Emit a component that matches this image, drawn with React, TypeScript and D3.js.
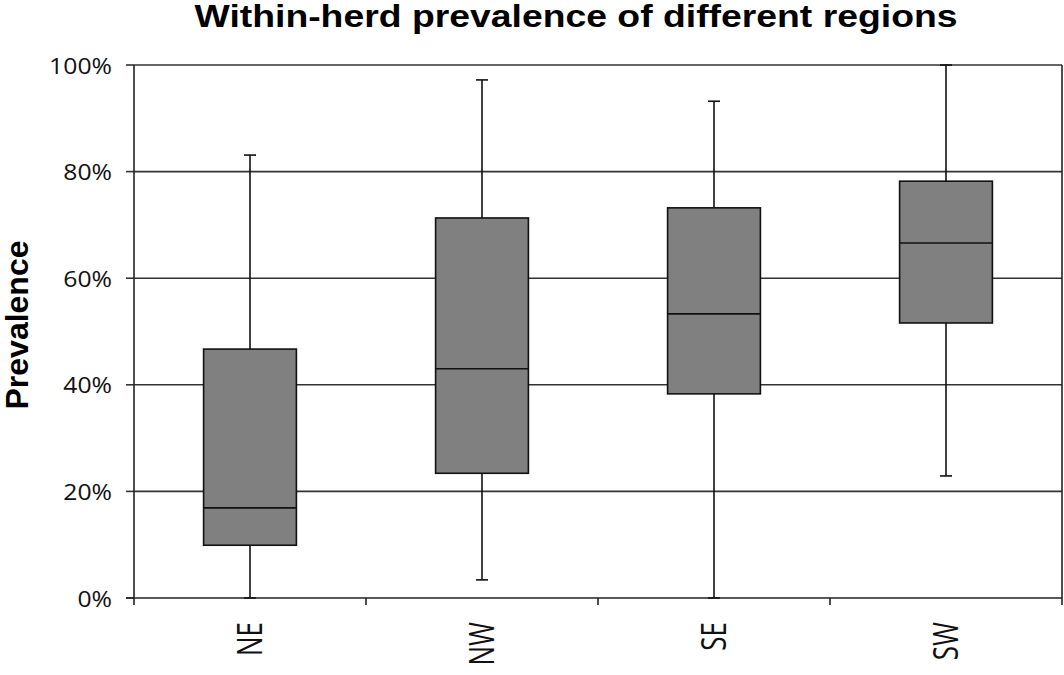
import React from "react";
import * as d3 from "d3";

const categories = ["NE", "NW", "SE", "SW"];
const mins = [0.0, 0.034, 0.0, 0.229];
const q1s = [0.099, 0.234, 0.383, 0.516];
const medians = [0.169, 0.43, 0.533, 0.666];
const q3s = [0.467, 0.713, 0.732, 0.782];
const maxs = [0.831, 0.972, 0.932, 1.0];
const yTicks = [0, 0.2, 0.4, 0.6, 0.8, 1.0];

export default function App() {
  const W = 1064, H = 675;
  const left = 134, right = 1062, top = 65, bottom = 598;
  const x = d3.scaleBand().domain(categories).range([left, right]).paddingInner(0).paddingOuter(0);
  const y = d3.scaleLinear().domain([0, 1]).range([bottom, top]);
  const bw = x.bandwidth() * 0.4;
  const cap = 12;
  return (
    <svg width={W} height={H} style={{ position: "absolute", left: 0, top: 0, background: "#fff" }}>
      <text x={576} y={27} textAnchor="middle" textLength={763} lengthAdjust="spacingAndGlyphs" fontFamily="Liberation Sans, Arial, sans-serif" fontWeight="bold" fontSize={31}>Within-herd prevalence of different regions</text>
      {yTicks.map((t) => (
        <g key={t}>
          {t > 0 && <line x1={left} x2={right} y1={y(t)} y2={y(t)} stroke="#333" strokeWidth={1.6} />}
          <line x1={left - 8} x2={left} y1={y(t)} y2={y(t)} stroke="#333" strokeWidth={1.6} />
          <text transform={`translate(112,${y(t) + 8.5}) scale(1.1,1)`} textAnchor="end" fontFamily="Open Sans, sans-serif" fontSize={22.5} fill="#111">{d3.format(".0%")(t)}</text>
        </g>
      ))}
      <line x1={left} x2={left} y1={top} y2={bottom} stroke="#222" strokeWidth={1.6} />
      <line x1={right} x2={right} y1={top} y2={bottom} stroke="#222" strokeWidth={1.6} />
      <line x1={left - 8} x2={right} y1={bottom} y2={bottom} stroke="#222" strokeWidth={1.6} />
      {categories.map((c, i) => (
        <line key={"t" + i} x1={x(c)!} x2={x(c)!} y1={bottom} y2={bottom + 7} stroke="#222" strokeWidth={1.6} />
      ))}
      <line x1={right} x2={right} y1={bottom} y2={bottom + 7} stroke="#222" strokeWidth={1.6} />
      {categories.map((c, i) => {
        const cx = x(c)! + x.bandwidth() / 2;
        return (
          <g key={c}>
            <line x1={cx} x2={cx} y1={y(maxs[i])} y2={y(q3s[i])} stroke="#111" strokeWidth={1.6} />
            <line x1={cx} x2={cx} y1={y(q1s[i])} y2={y(mins[i])} stroke="#111" strokeWidth={1.6} />
            <line x1={cx - cap / 2} x2={cx + cap / 2} y1={y(maxs[i])} y2={y(maxs[i])} stroke="#111" strokeWidth={1.6} />
            <line x1={cx - cap / 2} x2={cx + cap / 2} y1={y(mins[i])} y2={y(mins[i])} stroke="#111" strokeWidth={1.6} />
            <rect x={cx - bw / 2} y={y(q3s[i])} width={bw} height={y(q1s[i]) - y(q3s[i])} fill="#808080" stroke="#111" strokeWidth={1.6} />
            <line x1={cx - bw / 2} x2={cx + bw / 2} y1={y(medians[i])} y2={y(medians[i])} stroke="#111" strokeWidth={1.6} />
            <text transform={`translate(${cx + 12},${bottom + 24}) scale(1.3,1) rotate(-90)`} textAnchor="end" fontFamily="Open Sans, sans-serif" fontSize={26} fill="#111">{c}</text>
          </g>
        );
      })}
      <text transform={`translate(28,325) rotate(-90)`} textAnchor="middle" fontFamily="Liberation Sans, Arial, sans-serif" fontWeight="bold" fontSize={32}>Prevalence</text>
    </svg>
  );
}
